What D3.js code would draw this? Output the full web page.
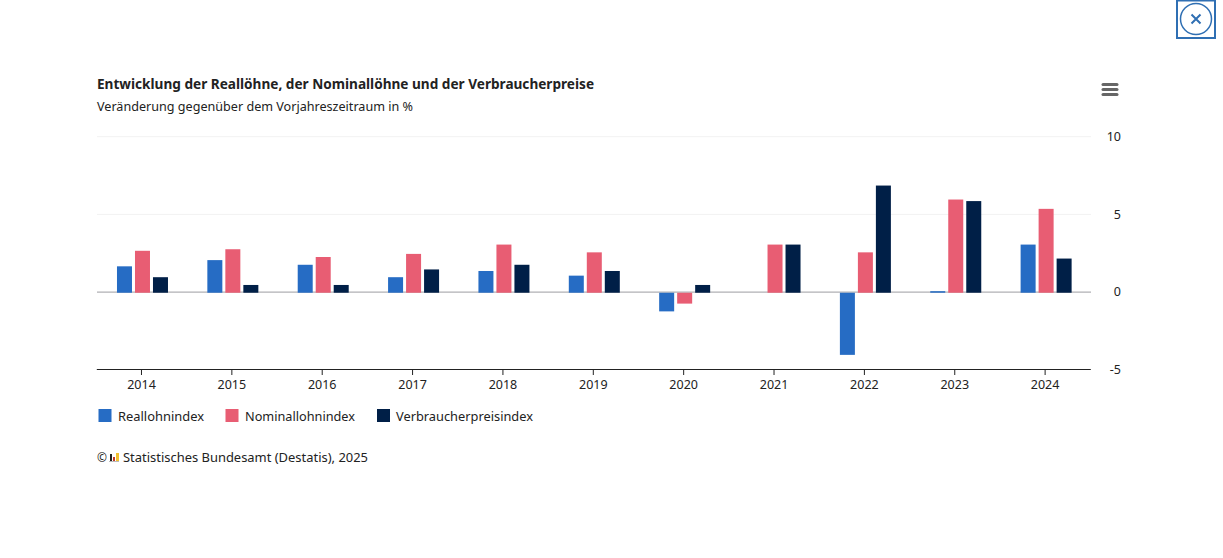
<!DOCTYPE html>
<html>
<head>
<meta charset="utf-8">
<script src="https://cdn.jsdelivr.net/npm/d3@7"></script>
<style>
  html, body { margin: 0; padding: 0; background: #fff; overflow: hidden; }
  svg { display: block; }
  text { font-family: "Noto Sans", sans-serif; fill: #222; }
</style>
</head>
<body>
<script>
const years = ["2014", "2015", "2016", "2017", "2018", "2019", "2020", "2021", "2022", "2023", "2024"];
const reallohn = [1.7, 2.1, 1.8, 1.0, 1.4, 1.1, -1.2, 0, -4.0, 0.1, 3.1];
const nominallohn = [2.7, 2.8, 2.3, 2.5, 3.1, 2.6, -0.7, 3.1, 2.6, 6.0, 5.4];
const verbraucher = [1.0, 0.5, 0.5, 1.5, 1.8, 1.4, 0.5, 3.1, 6.9, 5.9, 2.2];
const seriesNames = ["Reallohnindex", "Nominallohnindex", "Verbraucherpreisindex"];
const seriesValues = [reallohn, nominallohn, verbraucher];
const colors = ["#266cc4", "#e85d73", "#001f47"];
const yTicks = [-5, 0, 5, 10];

const svg = d3.select("body").append("svg")
  .attr("width", 1223)
  .attr("height", 558);

svg.append("text").attr("x", 97).attr("y", 89)
  .attr("font-size", 14.5).attr("font-weight", 700)
  .attr("textLength", 497).attr("lengthAdjust", "spacingAndGlyphs")
  .text("Entwicklung der Reallöhne, der Nominallöhne und der Verbraucherpreise");
svg.append("text").attr("x", 97).attr("y", 111)
  .attr("font-size", 13)
  .attr("textLength", 316).attr("lengthAdjust", "spacingAndGlyphs")
  .text("Veränderung gegenüber dem Vorjahreszeitraum in %");

const x = d3.scaleBand().domain(years).range([97, 1091]);
const xInner = d3.scaleBand().domain(seriesNames).range([-25.2, 25.8]).paddingInner(3 / 18);
const y = d3.scaleLinear().domain([-5, 10]).range([370.4, 137.4]);

// grid, sits a little above the bars' baseline
svg.append("g").attr("transform", "translate(0,-0.7)")
  .selectAll("line")
  .data(yTicks.filter(d => d > -5))
  .enter().append("line")
  .attr("x1", 97).attr("x2", 1091)
  .attr("y1", d => y(d)).attr("y2", d => y(d))
  .attr("stroke", d => d === 0 ? "#b0b0b4" : "#f2f2f2")
  .attr("stroke-width", d => d === 0 ? 1.2 : 1);

// bars
seriesNames.forEach((name, s) => {
  svg.append("g").selectAll("rect")
    .data(seriesValues[s])
    .enter().append("rect")
    .attr("x", (d, i) => x(years[i]) + x.bandwidth() / 2 + xInner(name))
    .attr("y", d => y(Math.max(d, 0)))
    .attr("width", xInner.bandwidth())
    .attr("height", d => Math.abs(y(d) - y(0)))
    .attr("fill", colors[s]);
});

// x axis
const gx = svg.append("g")
  .attr("transform", "translate(-0.7,369)")
  .call(d3.axisBottom(x).tickSizeInner(6).tickSizeOuter(0).tickPadding(5.5));
gx.select(".domain").attr("stroke", "#222").attr("stroke-width", 1);
gx.selectAll("line").attr("stroke", "#222");
gx.selectAll("text").attr("font-size", 12.5).style("font-family", '"Noto Sans", sans-serif').attr("fill", "#222");

// y axis
const gy = svg.append("g")
  .attr("transform", "translate(1121,-0.8)")
  .call(d3.axisLeft(y).tickValues(yTicks).tickSize(0).tickPadding(0).tickFormat(d => String(d)));
gy.select(".domain").remove();
gy.selectAll("text").attr("font-size", 12.5).style("font-family", '"Noto Sans", sans-serif').attr("fill", "#222");

// legend
const legendX = [98.5, 225.5, 377];
const legendTextX = [118, 245, 396];
const legendTextW = [86, 110, 137];
seriesNames.forEach((name, s) => {
  svg.append("rect").attr("x", legendX[s]).attr("y", 409)
    .attr("width", 13).attr("height", 13).attr("fill", colors[s]);
  svg.append("text").attr("x", legendTextX[s]).attr("y", 421)
    .attr("font-size", 13).attr("fill", "#333")
    .attr("textLength", legendTextW[s]).attr("lengthAdjust", "spacingAndGlyphs")
    .text(name);
});

// source line with small logo
svg.append("text").attr("x", 97).attr("y", 462).attr("font-size", 12).text("©");
svg.append("g").selectAll("rect")
  .data([[109, 461, 10, 1, "#bbb"], [110, 454, 2, 7, "#222"], [113, 457, 2, 4, "#c0392b"], [116, 453, 3, 8, "#f2c230"]])
  .enter().append("rect")
  .attr("x", d => d[0]).attr("y", d => d[1]).attr("width", d => d[2]).attr("height", d => d[3]).attr("fill", d => d[4]);
svg.append("text").attr("x", 123).attr("y", 462)
  .attr("font-size", 13).attr("fill", "#333")
  .attr("textLength", 245).attr("lengthAdjust", "spacingAndGlyphs")
  .text("Statistisches Bundesamt (Destatis), 2025");

// hamburger menu
svg.append("g").selectAll("line")
  .data([84.5, 89.5, 94.5])
  .enter().append("line")
  .attr("x1", 1103).attr("x2", 1117)
  .attr("y1", d => d).attr("y2", d => d)
  .attr("stroke", "#666").attr("stroke-width", 3).attr("stroke-linecap", "round");

// close button
const blue = "#2f6fb3";
svg.append("rect").attr("x", 1177).attr("y", 0.5).attr("width", 38).attr("height", 37.5)
  .attr("fill", "#fff").attr("stroke", blue).attr("stroke-width", 2);
svg.append("circle").attr("cx", 1196).attr("cy", 19).attr("r", 15.5)
  .attr("fill", "none").attr("stroke", blue).attr("stroke-width", 1.5);
svg.append("path").attr("d", "M1191.5 14.5L1200.5 23.5M1200.5 14.5L1191.5 23.5")
  .attr("stroke", blue).attr("stroke-width", 2).attr("fill", "none");
</script>
</body>
</html>
